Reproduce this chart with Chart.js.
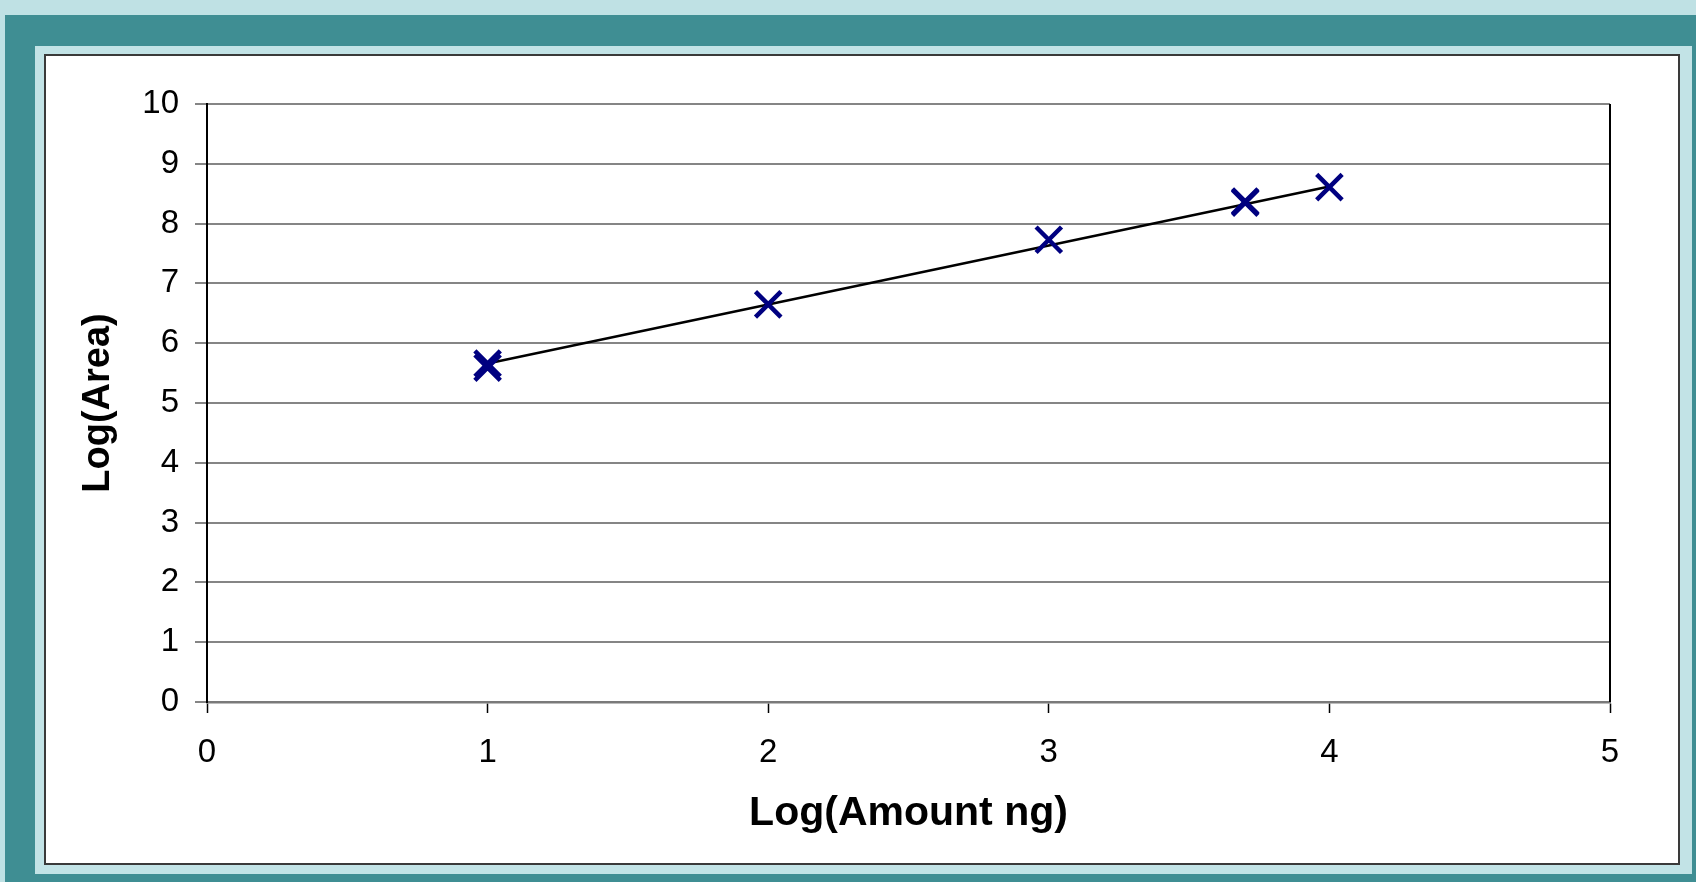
<!DOCTYPE html>
<html>
<head>
<meta charset="utf-8">
<script src="https://cdn.jsdelivr.net/npm/chart.js@4/dist/chart.umd.min.js"></script>
<style>
  html, body { margin: 0; padding: 0; }
  body { width: 1696px; height: 882px; background: #bfe1e4; position: relative; overflow: hidden; }
  #teal { position: absolute; left: 5px; top: 15px; width: 1700px; height: 880px; background: #3f8e93; }
  #inner { position: absolute; left: 35px; top: 46px; width: 1657px; height: 828px; background: #c2e3e6; }
  #box { position: absolute; left: 44px; top: 54px; width: 1632px; height: 807px; border: 2px solid #3a3a3a; background: #fff; }
  canvas { display: block; }
</style>
</head>
<body>
<div id="teal"></div>
<div id="inner"></div>
<div id="box"><canvas id="grafico" width="1632" height="807"></canvas></div>
<script>
// ===== DADOS =====
const logAmount = [1, 1, 2, 3, 3.7, 3.7, 4];
const logArea = [5.59, 5.66, 6.65, 7.73, 8.35, 8.37, 8.61];

const trendX = [1, 4];
const trendY = [5.66, 8.62];

const xTicks = [0, 1, 2, 3, 4, 5];
const yTicks = [0, 1, 2, 3, 4, 5, 6, 7, 8, 9, 10];

const fonte = "'Liberation Sans', Arial, sans-serif";

// ===== BORDA DIREITA =====
const bordaDireita = {
  id: "bordaDireita",
  afterDatasetsDraw(chart) {
    const { ctx, chartArea: a } = chart;
    ctx.save();
    ctx.strokeStyle = "#000";
    ctx.lineWidth = 2;
    ctx.beginPath();
    ctx.moveTo(a.right, a.top);
    ctx.lineTo(a.right, a.bottom);
    ctx.stroke();
    ctx.restore();
  }
};

// ===== GRÁFICO =====
new Chart(document.getElementById("grafico"), {
  type: "scatter",
  data: {
    datasets: [
      {
        type: "line",
        data: trendX.map((x, i) => ({ x, y: trendY[i] })),
        borderColor: "#000",
        borderWidth: 2.5,
        pointRadius: 0,
        fill: false,
        order: 2
      },
      {
        data: logAmount.map((x, i) => ({ x, y: logArea[i] })),
        pointStyle: "crossRot",
        pointRadius: 18,
        borderWidth: 4.5,
        pointBorderWidth: 4.5,
        borderColor: "#000080",
        backgroundColor: "#000080",
        showLine: false,
        order: 1
      }
    ]
  },
  options: {
    responsive: false,
    animation: false,
    events: [],
    layout: { padding: { left: 0, top: 48, right: 68, bottom: 0 } },
    plugins: { legend: { display: false }, tooltip: { enabled: false } },
    scales: {
      x: {
        type: "linear",
        min: 0,
        max: 5,
        afterBuildTicks: s => { s.ticks = xTicks.map(v => ({ value: v })); },
        afterFit: s => { s.height = 161; },
        grid: { drawOnChartArea: false, drawTicks: true, tickLength: 11, tickColor: "#000", tickWidth: 1.5 },
        border: { color: "#7a7a7a", width: 2.5 },
        ticks: { color: "#000", font: { family: fonte, size: 33 }, padding: 20, maxRotation: 0 },
        title: { display: true, text: "Log(Amount ng)", color: "#000", font: { family: fonte, size: 41, weight: "bold" }, padding: { top: 0, bottom: 25 } }
      },
      y: {
        min: 0,
        max: 10,
        afterBuildTicks: s => { s.ticks = yTicks.map(v => ({ value: v })); },
        afterFit: s => { s.width = 161; },
        grid: { color: "#858585", lineWidth: 2, tickLength: 12, tickColor: "#858585" },
        border: { color: "#000", width: 2 },
        ticks: { color: "#000", font: { family: fonte, size: 33 }, padding: 16 },
        title: { display: true, text: "Log(Area)", color: "#000", font: { family: fonte, size: 38, weight: "bold" }, padding: { top: 30, bottom: 0 } }
      }
    }
  },
  plugins: [bordaDireita]
});
</script>
</body>
</html>
